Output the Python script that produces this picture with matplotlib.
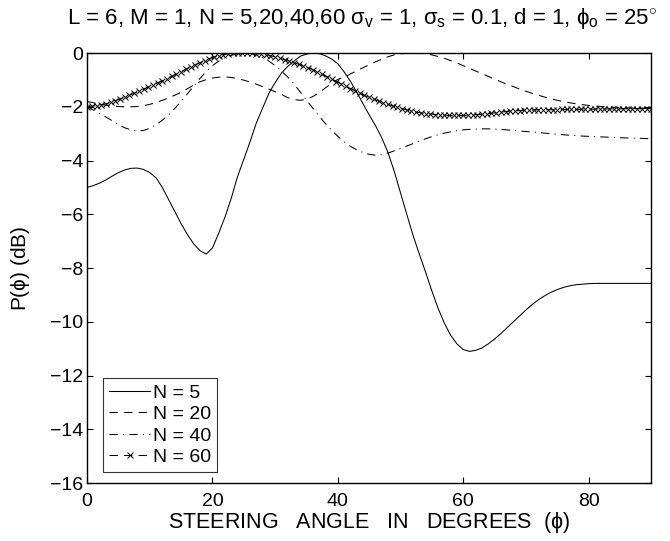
import numpy as np
import matplotlib
matplotlib.use("Agg")
import matplotlib.pyplot as plt

plt.rcParams['font.family'] = ['Liberation Sans', 'DejaVu Sans']
plt.rcParams['mathtext.fontset'] = 'custom'
plt.rcParams['mathtext.rm'] = 'Liberation Sans'
plt.rcParams['mathtext.it'] = 'Liberation Sans'
plt.rcParams['mathtext.sf'] = 'Liberation Sans'

# ---- data ----
angles_1deg = list(range(0, 91))

n5 = [-5.00, -4.93, -4.84, -4.72, -4.58, -4.45, -4.35, -4.29, -4.28, -4.33,
      -4.45, -4.64, -5.00, -5.45, -5.90, -6.35, -6.75, -7.10, -7.35, -7.48,
      -7.25, -6.70, -6.10, -5.40, -4.60, -3.95, -3.30, -2.60, -2.05, -1.50,
      -1.10, -0.75, -0.50, -0.30, -0.12, -0.04, 0.00, -0.02, -0.10, -0.22,
      -0.40, -0.70, -1.05, -1.45, -1.88, -2.30, -2.70, -3.15, -3.70, -4.40,
      -5.20, -6.00, -6.78, -7.48, -8.15, -8.85, -9.50, -10.05, -10.50, -10.82,
      -11.03, -11.10, -11.06, -10.97, -10.82, -10.64, -10.44, -10.22, -10.00, -9.78,
      -9.56, -9.36, -9.18, -9.03, -8.90, -8.80, -8.72, -8.66, -8.62, -8.60,
      -8.58, -8.57, -8.57, -8.57, -8.57, -8.57, -8.57, -8.57, -8.57, -8.57,
      -8.57]

n20 = [-1.80, -1.85, -1.90, -1.94, -1.97, -1.99, -2.00, -2.00, -1.99, -1.96,
       -1.91, -1.84, -1.76, -1.67, -1.57, -1.46, -1.33, -1.19, -1.07, -0.99,
       -0.93, -0.90, -0.89, -0.91, -0.95, -1.01, -1.08, -1.16, -1.25, -1.34,
       -1.44, -1.54, -1.66, -1.73, -1.76, -1.72, -1.62, -1.48, -1.30, -1.13,
       -0.98, -0.90, -0.78, -0.66, -0.55, -0.44, -0.33, -0.23, -0.14, -0.07,
       -0.03, -0.01, 0.00, 0.00, -0.03, -0.07, -0.13, -0.20, -0.28, -0.37,
       -0.47, -0.57, -0.67, -0.77, -0.87, -0.97, -1.07, -1.16, -1.25, -1.34,
       -1.42, -1.50, -1.57, -1.64, -1.70, -1.76, -1.81, -1.85, -1.89, -1.92,
       -1.95, -1.97, -1.99, -2.01, -2.02, -2.03, -2.04, -2.05, -2.05, -2.06,
       -2.06]

n40 = [-2.00, -2.12, -2.25, -2.38, -2.52, -2.66, -2.78, -2.86, -2.90, -2.88,
       -2.80, -2.67, -2.50, -2.30, -2.06, -1.80, -1.52, -1.23, -0.95, -0.69,
       -0.47, -0.30, -0.17, -0.08, -0.03, 0.00, -0.02, -0.07, -0.17, -0.30,
       -0.47, -0.67, -0.89, -1.15, -1.45, -1.75, -2.05, -2.35, -2.62, -2.87,
       -3.10, -3.30, -3.47, -3.60, -3.70, -3.77, -3.80, -3.78, -3.72, -3.64,
       -3.55, -3.46, -3.37, -3.28, -3.19, -3.11, -3.04, -2.98, -2.93, -2.89,
       -2.86, -2.84, -2.83, -2.82, -2.82, -2.83, -2.84, -2.86, -2.88, -2.90,
       -2.92, -2.94, -2.96, -2.98, -3.00, -3.02, -3.04, -3.06, -3.07, -3.09,
       -3.10, -3.11, -3.12, -3.13, -3.14, -3.15, -3.16, -3.17, -3.17, -3.18,
       -3.19]

n60 = [-1.99, -1.98, -1.96, -1.93, -1.89, -1.84, -1.78, -1.71, -1.64, -1.57,
       -1.50, -1.42, -1.35, -1.27, -1.19, -1.11, -1.03, -0.95, -0.87, -0.78,
       -0.69, -0.61, -0.52, -0.44, -0.36, -0.28, -0.21, -0.15, -0.10, -0.06,
       -0.03, -0.01, 0.00, 0.00, 0.00, -0.01, -0.02, -0.04, -0.07, -0.10,
       -0.14, -0.19, -0.25, -0.31, -0.36, -0.42, -0.48, -0.55, -0.62, -0.70,
       -0.79, -0.88, -0.97, -1.06, -1.15, -1.24, -1.32, -1.41, -1.50, -1.58,
       -1.65, -1.72, -1.79, -1.85, -1.91, -1.97, -2.02, -2.07, -2.12, -2.16,
       -2.20, -2.23, -2.25, -2.27, -2.29, -2.30, -2.31, -2.32, -2.32, -2.32,
       -2.32, -2.31, -2.30, -2.29, -2.28, -2.26, -2.24, -2.22, -2.20, -2.18,
       -2.16, -2.15, -2.14, -2.13, -2.12, -2.12, -2.11, -2.11, -2.11, -2.11,
       -2.11, -2.10, -2.10, -2.10, -2.10, -2.09, -2.09, -2.09, -2.09, -2.08,
       -2.08, -2.08, -2.08, -2.08, -2.07, -2.07, -2.07, -2.07, -2.07, -2.07,
       -2.07]
angles_n60 = np.linspace(0, 90, len(n60))

labels = ['N = 5', 'N = 20', 'N = 40', 'N = 60']
xticks = [0, 20, 40, 60, 80]
yticks = [0, -2, -4, -6, -8, -10, -12, -14, -16]

# ---- figure ----
fig = plt.figure(figsize=(6.70, 5.41), dpi=100)
ax = fig.add_axes([0.130, 0.107, 0.842, 0.795])

lw = 0.75
ax.plot(angles_1deg, n5, color='black', lw=lw, linestyle='-', label=labels[0])
ax.plot(angles_1deg, n20, color='black', lw=lw, linestyle=(0, (8, 6)), label=labels[1])
ax.plot(angles_1deg, n40, color='black', lw=lw, linestyle=(0, (8, 5, 1, 5)), label=labels[2])
ax.plot(angles_n60, n60, color='black', lw=lw, linestyle=(0, (8, 6)), marker='x',
        markersize=4, markeredgewidth=0.7, label=labels[3])

ax.set_xlim(0, 90)
ax.set_ylim(-16, 0)
ax.set_xticks(xticks)
ax.set_yticks(yticks)
ax.tick_params(direction='in', top=True, right=True, length=4, width=0.8,
               labelsize=14)
ax.tick_params(axis='x', pad=7)
ax.tick_params(axis='y', pad=3)
for s in ax.spines.values():
    s.set_linewidth(1.0)

fig.text(0.541, 0.9556,
         r'L = 6, M = 1, N = 5,20,40,60 $\sigma_v$ = 1, $\sigma_s$ = 0.1, d = 1, $\phi_o$ = 25$^{\circ}$',
         fontsize=16, ha='center', va='baseline')
ax.set_xlabel(r'STEERING   ANGLE   IN   DEGREES  ($\phi$)', fontsize=15.5)
ax.xaxis.set_label_coords(0.5, -0.062)
ax.set_ylabel(r'P($\phi$) (dB)', fontsize=15)
ax.yaxis.set_label_coords(-0.097, 0.5)

leg = ax.legend(loc='lower left', bbox_to_anchor=(0.029, 0.026), fontsize=14,
                frameon=True, fancybox=False, edgecolor='black', handlelength=2.1,
                handletextpad=0.15, borderpad=0.3, labelspacing=0.2,
                borderaxespad=0.0)
leg.get_frame().set_linewidth(0.8)

fig.savefig('out.png', dpi=100)
